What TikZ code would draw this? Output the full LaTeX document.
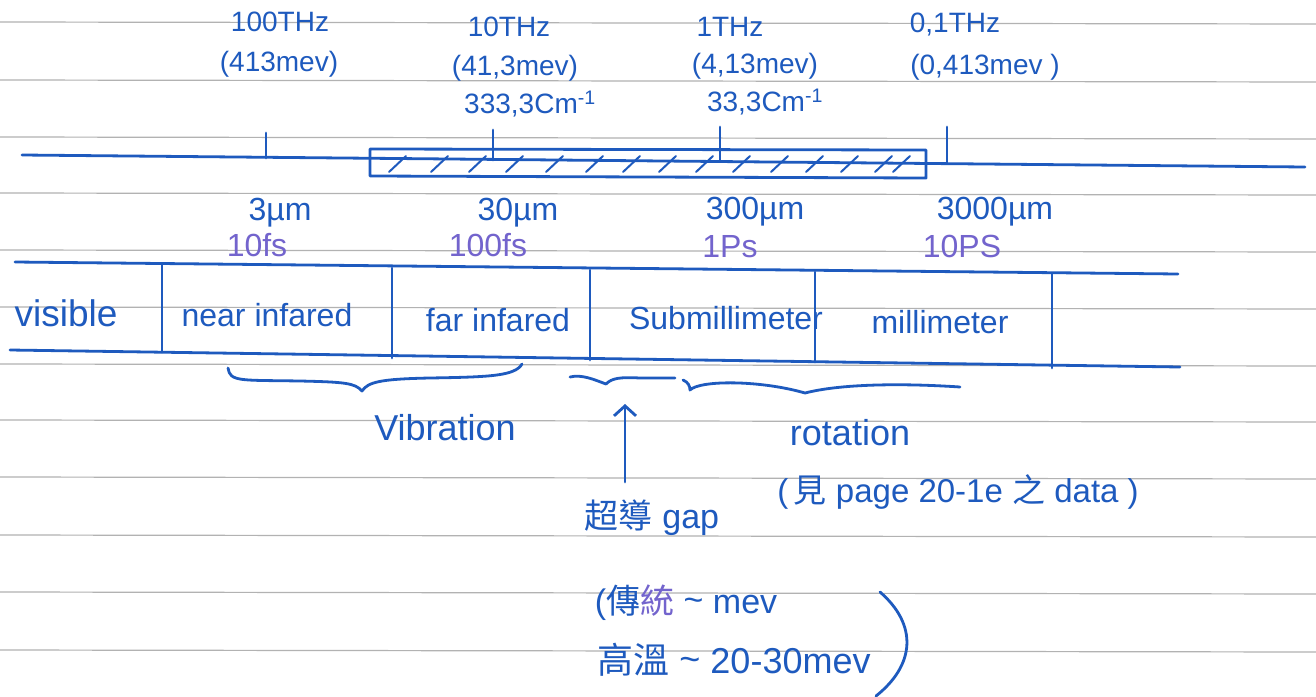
\documentclass[tikz,border=0pt]{standalone}
\usepackage{fontspec}
\usetikzlibrary{arrows.meta}
\setmainfont{Liberation Sans}
\newfontfamily\cjk{Noto Sans CJK TC}
\definecolor{ink}{RGB}{30,90,190}
\definecolor{inkp}{RGB}{115,100,205}
\definecolor{ruleline}{RGB}{178,178,178}
\newcommand{\fs}[1]{\fontsize{#1}{#1}\selectfont}
\tikzset{
  pen/.style={draw=ink, line width=2.8pt, line cap=round, line join=round},
  thinpen/.style={draw=ink, line width=2pt, line cap=round},
  lbl/.style={text=ink, inner sep=0pt, font=\fs{28}},
  wlbl/.style={text=ink, inner sep=0pt, font=\fs{32}},
  tlbl/.style={text=inkp, inner sep=0pt, font=\fs{32}},
  bandlbl/.style={text=ink, inner sep=0pt, font=\fs{32}},
  notelbl/.style={text=ink, inner sep=0pt, font=\fs{36}},
  cjklbl/.style={text=ink, inner sep=0pt, font=\fs{34}},
}
\begin{document}
\begin{tikzpicture}[x=1pt,y=-1pt]
\useasboundingbox (0,0) rectangle (1316,696);
\fill[white] (0,0) rectangle (1316,696);
% notebook rules
\foreach \yy in {22,80,137,193,250,307,364,420,477,535,592,650}
  \draw[ruleline, line width=1.2pt] (0,\yy) -- (1316,\yy+2);

% frequency axis
\coordinate (axL) at (22,155);
\coordinate (axR) at (1305,167);
\draw[pen] (axL) -- (axR);
% hatched box
\draw[pen] (370,149) -- (926,150) -- (926,178) -- (370,176) -- cycle;
\foreach \hx in {398,440,478,515,555,595,632,668,705,742,780,815,850,884,902}
  \draw[thinpen] (\hx-9,172) -- (\hx+8,156);
% ticks
\draw[pen] (266,133) -- (266,158);
\draw[pen] (493,130) -- (493,160);
\draw[pen] (720,127) -- (720,161);
\draw[pen] (947,127) -- (947,163);

% top labels
\node[lbl] (f100) at (280,22) {100THz};
\node[lbl] (e100) at (279,64) {(413mev)};
\node[lbl] (f10) at (509,27) {10THz};
\node[lbl] (e10) at (515,68) {(41,3mev)};
\node[lbl] (k10) at (530,104) {333,3Cm\textsuperscript{-1}};
\node[lbl] (f1) at (730,27) {1THz};
\node[lbl] (e1) at (755,66) {(4,13mev)};
\node[lbl] (k1) at (765,102) {33,3Cm\textsuperscript{-1}};
\node[lbl] (f01) at (955,25) {0,1THz};
\node[lbl] (e01) at (985,67) {(0,413mev )};

% wavelength / time labels
\node[wlbl] (w3) at (280,213) {3µm};
\node[tlbl] (t3) at (257,245) {10fs};
\node[wlbl] (w30) at (518,213) {30µm};
\node[tlbl] (t30) at (488,245) {100fs};
\node[wlbl] (w300) at (755,212) {300µm};
\node[tlbl] (t300) at (730,247) {1Ps};
\node[wlbl] (w3000) at (995,212) {3000µm};
\node[tlbl] (t3000) at (962,246) {10PS};

% band table
\draw[pen] (15,262) -- (1178,274);
\draw[pen] (10,350) -- (1180,367);
\draw[pen] (162,265) -- (162,352);
\draw[pen] (392,268) -- (392,358);
\draw[pen] (590,270) -- (590,360);
\draw[pen] (815,272) -- (815,362);
\draw[pen] (1052,274) -- (1052,368);
\node[bandlbl, font=\fs{37}] (vis) at (66,313) {visible};
\node[bandlbl] (nir) at (267,315) {near infared};
\node[bandlbl] (fir) at (498,320) {far infared};
\node[bandlbl] (sub) at (726,318) {Submillimeter};
\node[bandlbl] (mm) at (940,322) {millimeter};

% braces
\draw[pen] (228,368) .. controls (230,382) and (240,380) .. (300,381)
  .. controls (345,382) and (355,383) .. (362,391)
  .. controls (368,382) and (380,379) .. (430,378)
  .. controls (490,377) and (515,376) .. (522,364);
\draw[pen] (570,377) .. controls (582,374) and (595,380) .. (606,384)
  .. controls (612,378) and (620,377) .. (640,378) -- (675,378);
\draw[pen] (683,380) .. controls (688,382) and (690,386) .. (690,390)
  .. controls (700,380) and (760,380) .. (805,393)
  .. controls (840,384) and (900,383) .. (960,387);

% annotation labels
\node[notelbl] (vib) at (445,428) {Vibration};
\node[notelbl] (rot) at (850,433) {rotation};
\node[cjklbl, font=\fs{33}] (data) at (958,492) {(\,{\cjk 見} page 20-1e {\cjk 之} data )};
\node[cjklbl] (gap) at (652,518) {{\cjk 超導} gap};
\node[cjklbl] (trad) at (686,603) {({\cjk 傳}{\cjk\color{inkp}統} \raisebox{2pt}{\~{}} mev};
\node[cjklbl, font=\fs{36}] (high) at (734,660) {{\cjk 高溫} \raisebox{2pt}{\~{}} 20-30mev};

% arrow to gap
\coordinate (gaptip) at (625,404);
\coordinate (gapfoot) at (625,482);
\draw[pen, -{Straight Barb[length=10pt,width=22pt]}] (gapfoot) -- (gaptip);

% big closing parenthesis
\draw[pen] (880,592) .. controls (918,625) and (915,665) .. (876,696);
\end{tikzpicture}
\end{document}
